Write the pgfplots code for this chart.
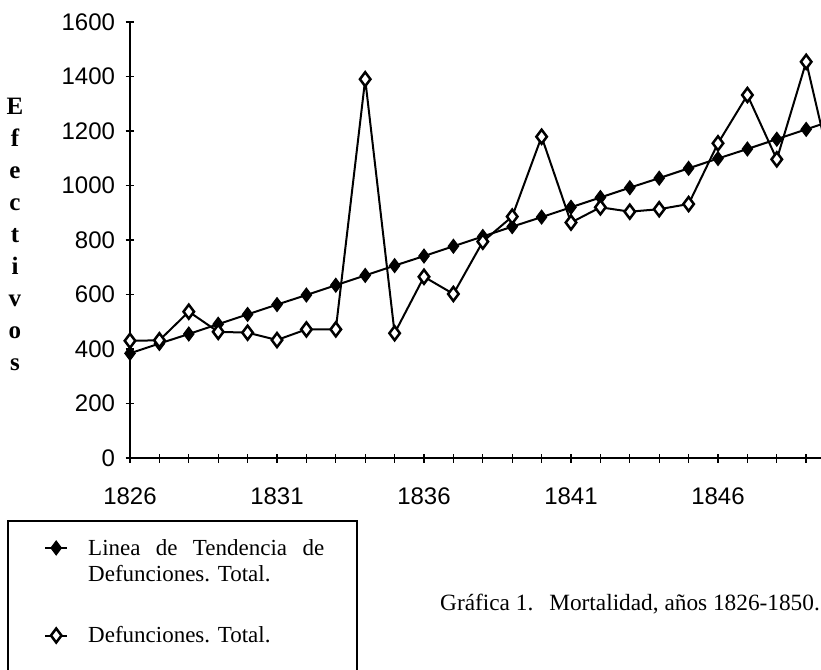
\documentclass[border=0pt]{standalone}
\usepackage{fontspec}
\setmainfont{Liberation Serif}
\newfontfamily\ticksfont{Liberation Sans}
\usepackage{pgfplots}
\pgfplotsset{compat=1.18}
\frenchspacing

\pgfplotstableread{
year trend total
1826 384 430
1827 420 432
1828 455 537
1829 491 463
1830 527 460
1831 563 433
1832 598 472
1833 634 472
1834 670 1390
1835 706 458
1836 741 665
1837 777 602
1838 813 794
1839 849 886
1840 884 1179
1841 920 864
1842 956 920
1843 992 904
1844 1027 913
1845 1063 932
1846 1099 1155
1847 1134 1332
1848 1170 1096
1849 1206 1454
1850 1242 990
}\datatable

\begin{document}
\begin{tikzpicture}[x=1pt,y=1pt]
\begin{axis}[
  at={(0,0)}, anchor=south west,
  scale only axis, width=705.6pt, height=436pt,
  xmin=1826, xmax=1850, ymin=0, ymax=1600,
  clip=false,
  axis x line*=bottom, axis y line*=left,
  axis line style={line width=2pt, black},
  xtick={1826,...,1850},
  xticklabels={1826,,,,,1831,,,,,1836,,,,,1841,,,,,1846,,,,},
  ytick={0,200,...,1600},
  major tick length=9pt,
  tick align=center,
  tick style={line width=1.3pt, black},
  /pgf/number format/1000 sep={},
  /pgf/number format/assume math mode=true,
  tick label style={font=\ticksfont\fontsize{24}{24}\selectfont},
  xticklabel style={yshift=-22pt},
  yticklabel style={xshift=-7pt},
  ylabel={E\\f\\e\\c\\t\\i\\v\\o\\s},
  ylabel style={at={(rel axis cs:-0.163,0.5126)}, rotate=-90, anchor=center, align=center, font=\bfseries\fontsize{25}{32}\selectfont},
  legend style={at={(rel axis cs:-0.1729,-0.1445)}, anchor=north west,
    draw=none, fill=none, inner xsep=36pt, inner ysep=14pt,
    font=\fontsize{23}{26}\selectfont, row sep=62pt, column sep=16pt,
    cells={anchor=west},
    nodes={text width=236pt, align=left, inner sep=4pt}},
  legend image code/.code={\draw[#1, mark repeat=2, mark phase=2] plot coordinates {(-11pt,0pt) (0pt,0pt) (11pt,0pt)};},
]
\addplot[black, line width=2pt, mark=diamond*, mark size=7pt, mark options={fill=black, draw=black, line width=1pt}] table[x=year, y=trend] {\datatable};
\addlegendentry{Linea\hfill de\hfill Tendencia\hfill de\\Defunciones. Total.}
\addplot[black, line width=2pt, mark=diamond*, mark size=7pt, mark options={fill=white, draw=black, line width=2.5pt}] table[x=year, y=total] {\datatable};
\addlegendentry{Defunciones. Total.}
\end{axis}
\draw[line width=2pt] (-122,-240) -- (-122,-63) -- (227,-63) -- (227,-240);
\node[anchor=base west, font=\fontsize{23.3}{26}\selectfont, inner sep=0pt] at (310,-152) {Gráfica 1.\hspace{16pt}Mortalidad, años 1826-1850.};
\pgfresetboundingbox
\useasboundingbox (-130,-211) rectangle (691,458);
\end{tikzpicture}
\end{document}
